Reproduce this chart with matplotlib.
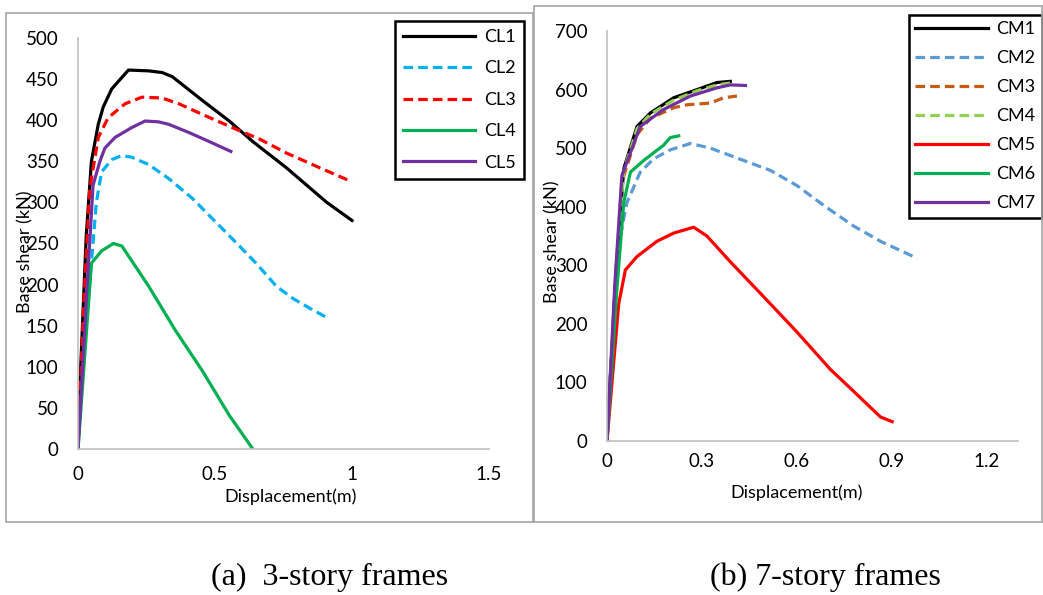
import matplotlib.pyplot as plt
from matplotlib.patches import Rectangle

plt.rcParams['font.family'] = ['Lato', 'DejaVu Sans']

# 3-story frames (displacement m, base shear kN)
cl1_x = [0, 0.01, 0.03, 0.049, 0.074, 0.092, 0.123, 0.184, 0.258, 0.307, 0.344, 0.454, 0.552, 0.638, 0.761, 0.908, 1.0]
cl1_y = [0, 100, 259, 350, 395, 416, 438, 461, 460, 458, 453, 424, 399, 374, 342, 300, 278]
cl2_x = [0, 0.03, 0.067, 0.086, 0.123, 0.16, 0.196, 0.258, 0.331, 0.417, 0.515, 0.577, 0.65, 0.724, 0.785, 0.847, 0.908]
cl2_y = [0, 150, 300, 337, 352, 357, 355, 346, 329, 305, 272, 251, 226, 198, 183, 171, 160]
cl3_x = [0, 0.02, 0.043, 0.074, 0.11, 0.172, 0.233, 0.307, 0.368, 0.454, 0.577, 0.663, 0.761, 0.883, 1.0]
cl3_y = [0, 170, 317, 379, 403, 420, 428, 427, 420, 407, 389, 377, 360, 342, 325]
cl4_x = [0, 0.049, 0.086, 0.129, 0.16, 0.258, 0.356, 0.454, 0.552, 0.638]
cl4_y = [0, 226, 241, 250, 247, 198, 144, 95, 41, 0]
cl5_x = [0, 0.03, 0.055, 0.08, 0.098, 0.135, 0.196, 0.245, 0.294, 0.331, 0.405, 0.479, 0.558]
cl5_y = [0, 180, 321, 350, 366, 379, 391, 399, 398, 395, 385, 374, 362]

# 7-story frames
cm1_x = [0, 0.03, 0.053, 0.095, 0.137, 0.211, 0.285, 0.348, 0.39]
cm1_y = [0, 300, 465, 537, 560, 586, 600, 612, 614]
cm2_x = [0, 0.032, 0.063, 0.105, 0.148, 0.2, 0.264, 0.327, 0.432, 0.517, 0.601, 0.686, 0.78, 0.865, 0.981]
cm2_y = [0, 321, 407, 459, 482, 497, 508, 500, 479, 462, 436, 402, 367, 341, 312]
cm3_x = [0, 0.025, 0.047, 0.095, 0.137, 0.211, 0.253, 0.327, 0.369, 0.411]
cm3_y = [0, 260, 442, 523, 551, 569, 574, 577, 586, 589]
cm4_x = [0, 0.03, 0.053, 0.095, 0.137, 0.211, 0.285, 0.348, 0.40]
cm4_y = [0, 300, 462, 533, 558, 582, 598, 608, 612]
cm5_x = [0, 0.037, 0.058, 0.095, 0.158, 0.211, 0.274, 0.316, 0.39, 0.496, 0.601, 0.707, 0.77, 0.865, 0.902]
cm5_y = [0, 234, 292, 315, 341, 355, 365, 350, 306, 246, 186, 122, 90, 41, 33]
cm6_x = [0, 0.03, 0.053, 0.074, 0.116, 0.179, 0.2, 0.227]
cm6_y = [0, 250, 407, 459, 479, 505, 518, 521]
cm7_x = [0, 0.025, 0.047, 0.105, 0.179, 0.264, 0.348, 0.39, 0.438]
cm7_y = [0, 270, 453, 537, 566, 589, 603, 608, 607]

fig = plt.figure(figsize=(10.43, 5.95), dpi=100)

# panel frames
fig.patches.append(Rectangle((6 / 1043, 1 - 522 / 595), 527 / 1043, 509 / 595,
                             transform=fig.transFigure, fill=False, ec='#a6a6a6', lw=1.2))
fig.patches.append(Rectangle((534 / 1043, 1 - 522 / 595), 508 / 1043, 516 / 595,
                             transform=fig.transFigure, fill=False, ec='#a6a6a6', lw=1.2))

ax1 = fig.add_axes([78 / 1043, 1 - 449 / 595, 411 / 1043, 411 / 595])
ax2 = fig.add_axes([607 / 1043, 1 - 441 / 595, 411 / 1043, 410 / 595])

lw = 2.3
dash = (3, 1.6)
ax1.plot(cl1_x, cl1_y, color='black', lw=lw, label='CL1')
ax1.plot(cl2_x, cl2_y, color='#00b0f0', lw=lw, ls=(0, dash), label='CL2')
ax1.plot(cl3_x, cl3_y, color='#ff0000', lw=lw, ls=(0, dash), label='CL3')
ax1.plot(cl4_x, cl4_y, color='#00b050', lw=lw, label='CL4')
ax1.plot(cl5_x, cl5_y, color='#7030a0', lw=lw, label='CL5')

ax2.plot(cm1_x, cm1_y, color='black', lw=lw, label='CM1')
ax2.plot(cm2_x, cm2_y, color='#5b9bd5', lw=lw, ls=(0, dash), label='CM2')
ax2.plot(cm3_x, cm3_y, color='#c55a11', lw=lw, ls=(0, dash), label='CM3')
ax2.plot(cm4_x, cm4_y, color='#92d050', lw=lw, ls=(0, dash), label='CM4')
ax2.plot(cm5_x, cm5_y, color='#ff0000', lw=lw, label='CM5')
ax2.plot(cm6_x, cm6_y, color='#00b050', lw=lw, label='CM6')
ax2.plot(cm7_x, cm7_y, color='#7030a0', lw=lw, label='CM7')

ax1.set_xlim(0, 1.5)
ax1.set_ylim(0, 500)
ax1.set_xticks([0, 0.5, 1, 1.5])
ax1.set_xticklabels(['0', '0.5', '1', '1.5'])
ax1.set_yticks(range(0, 501, 50))

ax2.set_xlim(0, 1.3)
ax2.set_ylim(0, 700)
ax2.set_xticks([0, 0.3, 0.6, 0.9, 1.2])
ax2.set_xticklabels(['0', '0.3', '0.6', '0.9', '1.2'])
ax2.set_yticks(range(0, 701, 100))

for ax in (ax1, ax2):
    ax.set_facecolor('none')
    for s in ('top', 'right'):
        ax.spines[s].set_visible(False)
    for s in ('left', 'bottom'):
        ax.spines[s].set_color('#bfbfbf')
        ax.spines[s].set_linewidth(1.2)
    ax.tick_params(length=0, labelsize=13.5, colors='black')
    ax.tick_params(axis='y', pad=14)
    ax.set_xlabel('Displacement(m)', fontsize=13)
    ax.set_ylabel('Base shear (kN)', fontsize=13)

ax1.tick_params(axis='x', pad=12)
ax2.tick_params(axis='x', pad=8.5)
ax1.xaxis.set_label_coords(0.516, -0.097)
ax1.yaxis.set_label_coords(-0.109, 0.48)
ax2.xaxis.set_label_coords(0.462, -0.107)
ax2.yaxis.set_label_coords(-0.114, 0.485)

leg1 = ax1.legend(loc='upper right', bbox_to_anchor=(524 / 1043, 1 - 21 / 595),
                  bbox_transform=fig.transFigure, borderaxespad=0, fontsize=13,
                  handlelength=4.0, labelspacing=0.85, borderpad=0.45,
                  handletextpad=0.5, fancybox=False)
leg2 = ax2.legend(loc='upper right', bbox_to_anchor=(1042 / 1043, 1 - 15 / 595),
                  bbox_transform=fig.transFigure, borderaxespad=0, fontsize=13,
                  handlelength=4.0, labelspacing=0.72, borderpad=0.35,
                  handletextpad=0.5, fancybox=False)
for leg in (leg1, leg2):
    leg.get_frame().set_edgecolor('black')
    leg.get_frame().set_linewidth(1.8)
    leg.get_frame().set_alpha(1)

fig.text(330 / 1043, 1 - 577 / 595, '(a)  3-story frames', ha='center', va='center',
         fontsize=23, family='Liberation Serif')
fig.text(825 / 1043, 1 - 577 / 595, '(b) 7-story frames', ha='center', va='center',
         fontsize=23, family='Liberation Serif')

fig.savefig('out.png', dpi=100)
